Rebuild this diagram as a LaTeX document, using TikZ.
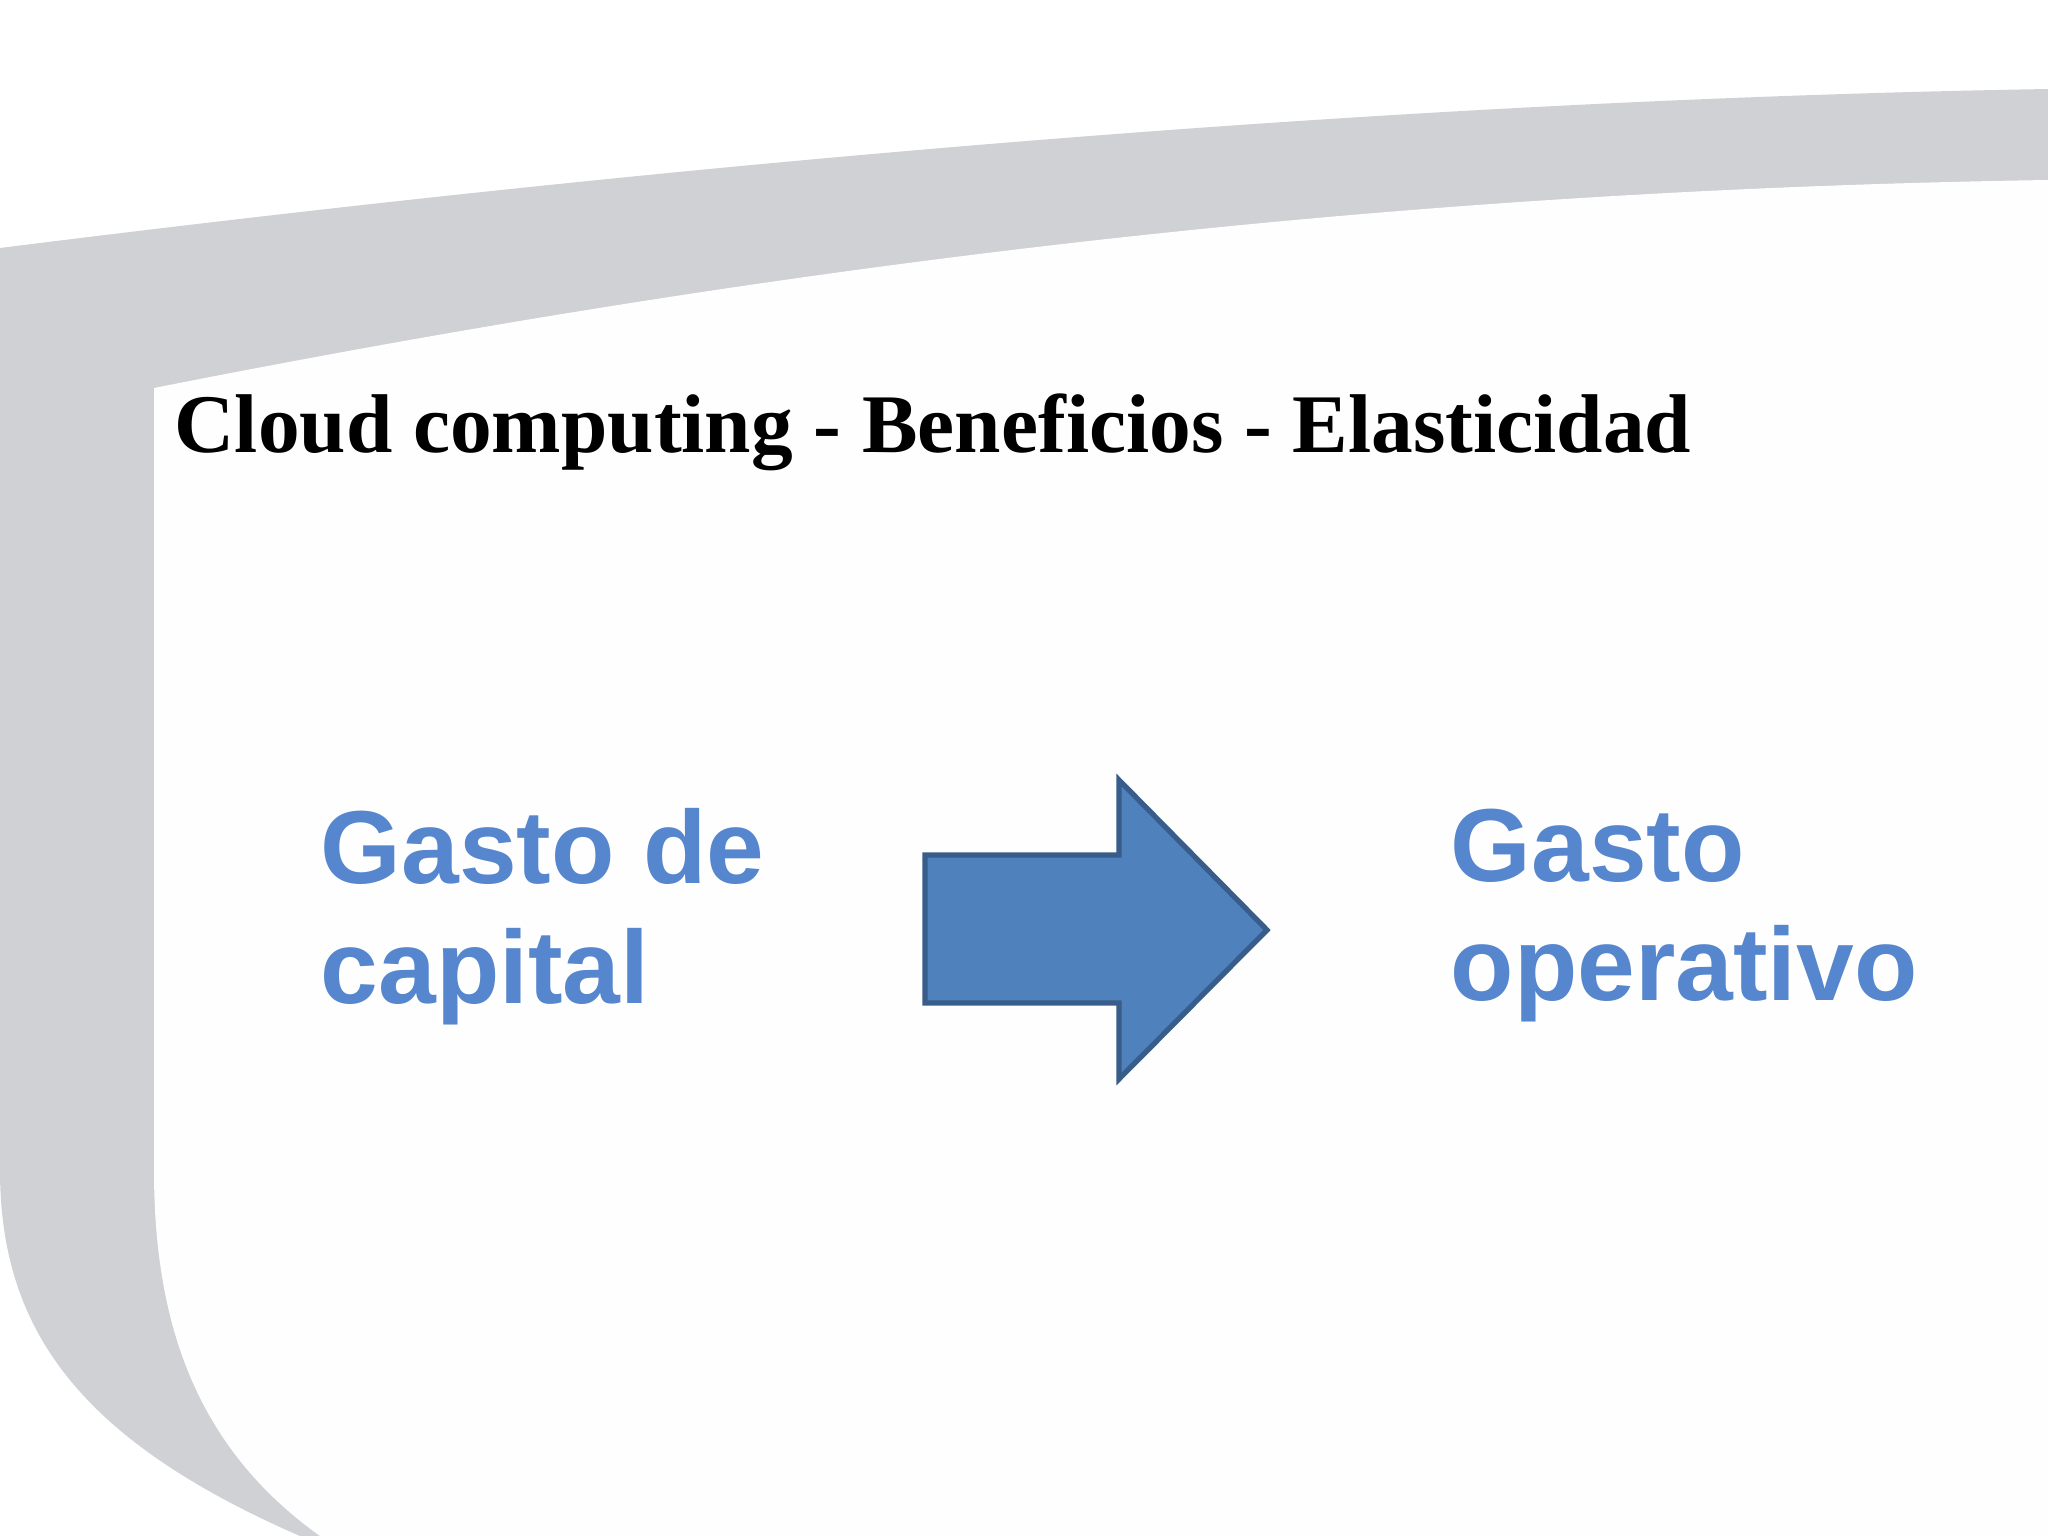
\documentclass[tikz,border=0pt]{standalone}
\usepackage{fontspec}
\setsansfont{Liberation Sans}
\setmainfont{Liberation Serif}
\begin{document}
\begin{tikzpicture}[x=0.01cm,y=-0.01cm,
  big/.style={font=\sffamily\bfseries\fontsize{29.5}{34}\selectfont,text=bluetxt,align=left,anchor=north west,inner sep=0pt},
]
\definecolor{swoosh}{RGB}{208,209,213}
\definecolor{bluetxt}{RGB}{86,134,206}
\definecolor{arrowfill}{RGB}{79,129,189}
\definecolor{arrowline}{RGB}{56,93,138}
\useasboundingbox (0,0) rectangle (2048,1536);
\fill[white] (0,0) rectangle (2048,1536);
\fill[swoosh] (0,248) .. controls (700,160) and (1400,100) .. (2048,89)
  -- (2048,1536) -- (300,1536) .. controls (80,1440) and (0,1330) .. (0,1170) -- cycle;
\fill[white!99!gray] (154,388) .. controls (800,260) and (1400,190) .. (2048,180)
  -- (2048,1536) -- (320,1536) .. controls (200,1450) and (154,1330) .. (154,1170) -- cycle;
\node[anchor=base west,inner sep=0pt,font=\bfseries\fontsize{23.7}{28}\selectfont] (title) at (174,452) {Cloud computing - Beneficios - Elasticidad};
\node[big] (left) at (320,808) {Gasto de\\capital};
\node[big] (right) at (1450,808) {Gasto\\operativo};
\draw[fill=arrowfill,draw=arrowline,line width=1.5pt,line join=miter] (925,855) -- (1119,855) -- (1119,780) -- (1267,930) -- (1119,1079) -- (1119,1003) -- (925,1003) -- cycle;
\end{tikzpicture}
\end{document}
